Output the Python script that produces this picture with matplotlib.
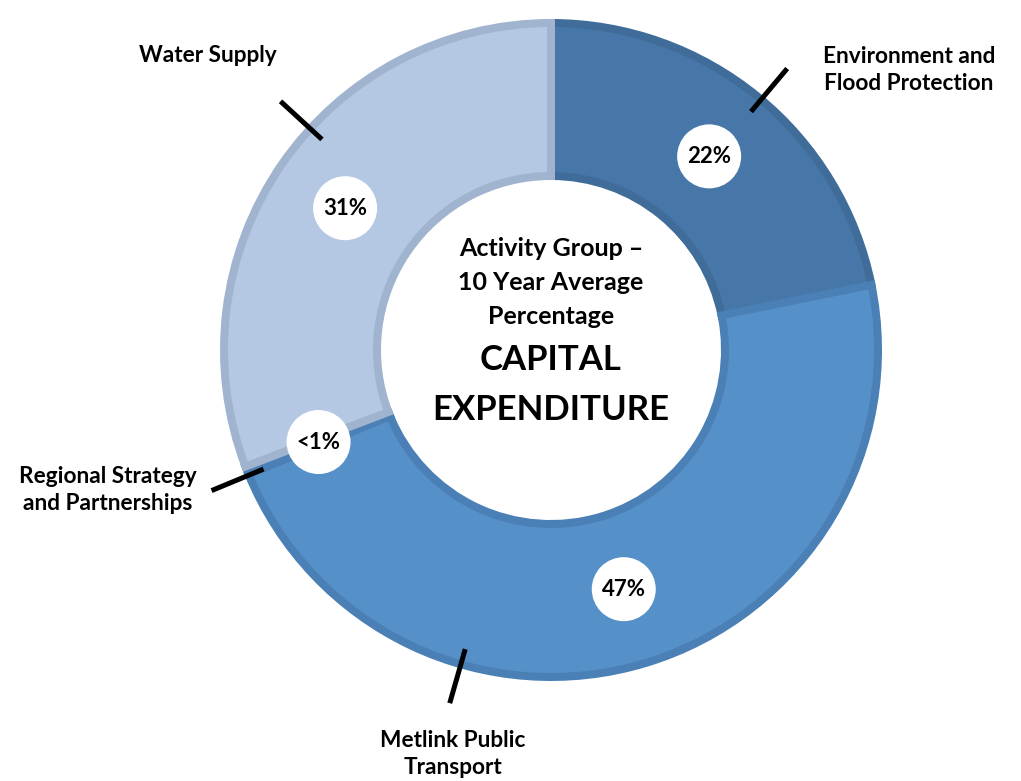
import numpy as np
import matplotlib
matplotlib.use("Agg")
import matplotlib.pyplot as plt
from matplotlib.patches import Circle

plt.rcParams['font.family'] = ['Lato', 'DejaVu Sans']

# data
groups = ["Environment and\nFlood Protection", "Metlink Public\nTransport",
          "Regional Strategy\nand Partnerships", "Water Supply"]
shares = [21.8, 47.0, 0.4, 30.8]
share_labels = ["22%", "47%", "<1%", "31%"]
centre_lines = ["Activity Group \u2013", "10 Year Average", "Percentage"]
centre_title = ["CAPITAL", "EXPENDITURE"]

fills = ["#4677a8", "#5591c8", "#5591c8", "#b4c8e4"]
edges = ["#3f6c99", "#4a80b5", "#4a80b5", "#a0b4cf"]

# layout (pixel space, y up)
W, H = 1021, 781
cx, cy = 551, H - 350
R, ring, stroke = 331, 161, 8
leader_ang = [50.0, -106.0, 202.5, 137.4]
name_pos = [(909, H - 70), (453, H - 754), (108, H - 490), (208, H - 55)]

fig = plt.figure(figsize=(W / 100, H / 100), dpi=100)
ax = fig.add_axes([0, 0, 1, 1])

# ring drawn a half stroke inside so the darker edge stays within the band
wedges, _ = ax.pie(shares, center=(cx, cy), radius=R - stroke / 2, startangle=90,
                   counterclock=False, colors=fills,
                   wedgeprops=dict(width=ring - stroke, linewidth=stroke * 0.72))
for w, ec in zip(wedges, edges):
	w.set_edgecolor(ec)

for w, lab in zip(wedges, share_labels):
	mid = np.deg2rad((w.theta1 + w.theta2) / 2)
	x, y = cx + 250 * np.cos(mid), cy + 250 * np.sin(mid)
	ax.add_patch(Circle((x, y), 32, facecolor="white", edgecolor="none", zorder=3))
	ax.text(x, y, lab, ha="center", va="center", fontsize=16,
	        fontweight="bold", zorder=4)

for a, name, (tx, ty) in zip(leader_ang, groups, name_pos):
	t = np.deg2rad(a)
	ax.plot([cx + 0.94 * R * np.cos(t), cx + 1.11 * R * np.cos(t)],
	        [cy + 0.94 * R * np.sin(t), cy + 1.11 * R * np.sin(t)],
	        color="black", lw=3.6, solid_capstyle="butt", zorder=5)
	ax.text(tx, ty, name, ha="center", va="center", fontsize=16.3,
	        fontweight="bold", linespacing=1.3)

for i, line in enumerate(centre_lines):
	ax.text(cx, H - 248 - 34.5 * i, line, ha="center", va="center",
	        fontsize=18, fontweight="bold")
for i, line in enumerate(centre_title):
	ax.text(cx, H - 360 - 50 * i, line, ha="center", va="center",
	        fontsize=25, fontweight="bold")

ax.set_xlim(0, W)
ax.set_ylim(0, H)
ax.set_aspect("equal")
ax.axis("off")

plt.savefig("out.png", dpi=100, facecolor="white")
